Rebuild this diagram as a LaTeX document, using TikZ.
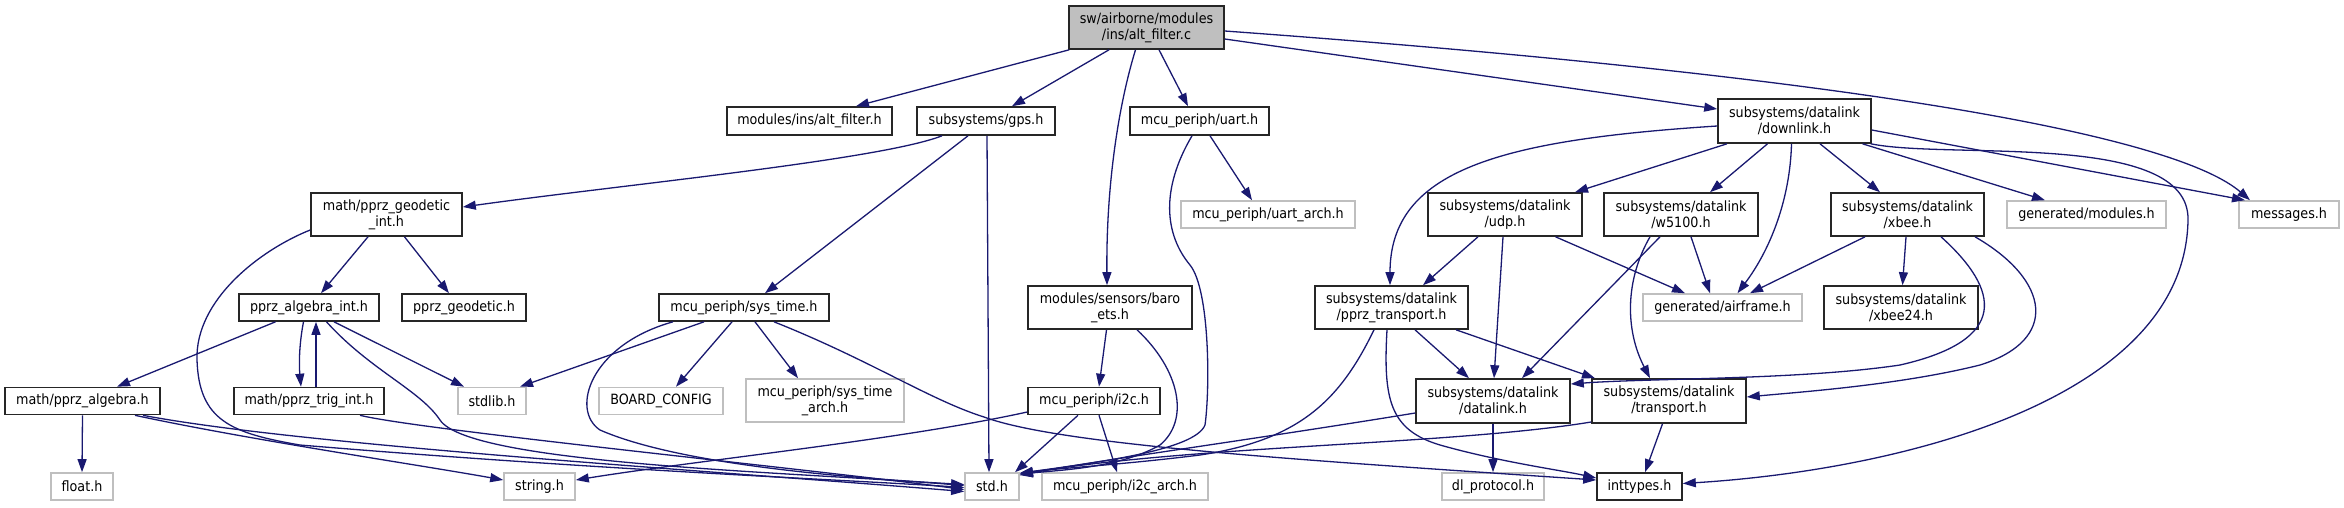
\documentclass[tikz,border=0pt]{standalone}
\usepackage{fontspec}
\setmainfont{DejaVu Sans}[FakeStretch=0.9]
\usetikzlibrary{arrows.meta}
\definecolor{edgecol}{HTML}{191970}
\definecolor{graybord}{HTML}{BFBFBF}
\begin{document}
\begin{tikzpicture}[x=1pt,y=-1pt,
 box/.style={draw=black!85, line width=1.6pt, inner sep=0pt, align=center, font=\fontsize{14.15}{16}\selectfont, fill=white},
 gbox/.style={box, draw=graybord},
 rootbox/.style={box, fill=graybord},
 e/.style={draw=edgecol, line width=1.3pt, -{Triangle[length=13pt,width=9pt]}},
]
\useasboundingbox (0,0) rectangle (2344,507);
% row 0
\node[rootbox, minimum width=155pt, minimum height=43pt] (root) at (1146.5,27.5) {sw/airborne/modules\\/ins/alt\_filter.c};
% row 1
\node[box, minimum width=165pt, minimum height=28pt] (altf) at (809.5,121) {modules/ins/alt\_filter.h};
\node[box, minimum width=138pt, minimum height=28pt] (gps) at (986,121) {subsystems/gps.h};
\node[box, minimum width=139pt, minimum height=28pt] (uart) at (1199.5,121) {mcu\_periph/uart.h};
\node[box, minimum width=153pt, minimum height=44pt] (downlink) at (1794.5,121) {subsystems/datalink\\/downlink.h};
% row 2
\node[box, minimum width=151pt, minimum height=43pt] (geoint) at (386.5,214.5) {math/pprz\_geodetic\\\_int.h};
\node[gbox, minimum width=174pt, minimum height=27pt] (uartarch) at (1268,214.5) {mcu\_periph/uart\_arch.h};
\node[box, minimum width=154pt, minimum height=43pt] (udp) at (1505,214.5) {subsystems/datalink\\/udp.h};
\node[box, minimum width=154pt, minimum height=43pt] (w5100) at (1681,214.5) {subsystems/datalink\\/w5100.h};
\node[box, minimum width=153pt, minimum height=43pt] (xbee) at (1907.5,214.5) {subsystems/datalink\\/xbee.h};
\node[gbox, minimum width=159pt, minimum height=27pt] (genmod) at (2086.5,214.5) {generated/modules.h};
\node[gbox, minimum width=100pt, minimum height=27pt] (messages) at (2289,214.5) {messages.h};
% row 3
\node[box, minimum width=140pt, minimum height=27pt] (algint) at (309,307.5) {pprz\_algebra\_int.h};
\node[box, minimum width=124pt, minimum height=27pt] (geod) at (464,307.5) {pprz\_geodetic.h};
\node[box, minimum width=170pt, minimum height=27pt] (systime) at (744,307.5) {mcu\_periph/sys\_time.h};
\node[box, minimum width=164pt, minimum height=43pt] (baro) at (1110,307.5) {modules/sensors/baro\\\_ets.h};
\node[box, minimum width=153pt, minimum height=43pt] (ptrans) at (1391.5,307.5) {subsystems/datalink\\/pprz\_transport.h};
\node[gbox, minimum width=159pt, minimum height=27pt] (airframe) at (1722.5,307.5) {generated/airframe.h};
\node[box, minimum width=154pt, minimum height=43pt] (xbee24) at (1901,307.5) {subsystems/datalink\\/xbee24.h};
% row 4
\node[box, minimum width=155pt, minimum height=27pt] (palg) at (82.5,401) {math/pprz\_algebra.h};
\node[box, minimum width=150pt, minimum height=27pt] (trig) at (309,401) {math/pprz\_trig\_int.h};
\node[gbox, minimum width=68pt, minimum height=27pt] (stdlib) at (492,401) {stdlib.h};
\node[gbox, minimum width=124pt, minimum height=27pt] (board) at (661,401) {BOARD\_CONFIG};
\node[gbox, minimum width=158pt, minimum height=43pt] (starch) at (825,400.5) {mcu\_periph/sys\_time\\\_arch.h};
\node[box, minimum width=132pt, minimum height=27pt] (i2c) at (1094,401) {mcu\_periph/i2c.h};
\node[box, minimum width=154pt, minimum height=44pt] (datalink) at (1493,401) {subsystems/datalink\\/datalink.h};
\node[box, minimum width=154pt, minimum height=44pt] (transport) at (1669,401) {subsystems/datalink\\/transport.h};
% row 5
\node[gbox, minimum width=62pt, minimum height=27pt] (float) at (82,486.5) {float.h};
\node[gbox, minimum width=71pt, minimum height=27pt] (string) at (539.5,486.5) {string.h};
\node[gbox, minimum width=54pt, minimum height=27pt] (std) at (992,486.5) {std.h};
\node[gbox, minimum width=166pt, minimum height=27pt] (i2carch) at (1125,486.5) {mcu\_periph/i2c\_arch.h};
\node[gbox, minimum width=102pt, minimum height=27pt] (dlproto) at (1493,486.5) {dl\_protocol.h};
\node[box, minimum width=85pt, minimum height=27pt] (inttypes) at (1639.5,486.5) {inttypes.h};
% edges from root
\draw[e] ([xshift=1pt]root.south west) -- ([xshift=46.5pt]altf.north);
\draw[e] ([xshift=-37.5pt]root.south) -- ([xshift=26pt]gps.north);
\draw[e] ([xshift=-11pt]root.south) .. controls (1120,100) and (1106,180) .. ([xshift=-3pt]baro.north);
\draw[e] ([xshift=12.5pt]root.south) -- ([xshift=-11.5pt]uart.north);
\draw[e] ([yshift=-11.5pt]root.east) -- ([yshift=12pt]downlink.west);
\draw[e] ([yshift=-3.5pt]root.east) .. controls (1900,80) and (2180,140) .. ([xshift=-39pt]messages.north);
% gps
\draw[e] ([xshift=-44pt]gps.south) .. controls (880,160) and (620,185) .. ([yshift=7.5pt]geoint.east);
\draw[e] ([xshift=-18pt]gps.south) -- ([xshift=21pt]systime.north);
\draw[e] ([xshift=1pt]gps.south) -- ([xshift=-3pt]std.north);
% uart
\draw[e] ([xshift=10.5pt]uart.south) -- ([xshift=-16pt]uartarch.north);
\draw[e] ([xshift=-7.5pt]uart.south) .. controls (1160,190) and (1165,235) .. (1190,265) .. controls (1210,290) and (1210,390) .. (1205,425) .. controls (1195,450) and (1100,462) .. ([yshift=-1pt]std.north east);
% geodetic_int
\draw[e] ([xshift=-18.5pt]geoint.south) -- ([xshift=12pt]algint.north);
\draw[e] ([xshift=18pt]geoint.south) -- ([xshift=-15pt]geod.north);
\draw[e] ([yshift=-15.5pt]geoint.west) .. controls (260,250) and (195,300) .. (197,360) .. controls (199,420) and (230,433) .. (300,445) .. controls (600,470) and (850,480) .. ([yshift=-1pt]std.west);
% pprz_algebra_int
\draw[e] ([xshift=-33.5pt]algint.south) -- ([xshift=34.5pt]palg.north);
\draw[e] ([xshift=-5.5pt]algint.south) .. controls (299,345) and (299,365) .. ([xshift=-8pt]trig.north);
\draw[e] ([xshift=25pt]algint.south) -- ([xshift=-28pt]stdlib.north);
\draw[e] ([xshift=17.5pt]algint.south) .. controls (370,370) and (420,390) .. (440,420) .. controls (470,465) and (800,472) .. ([yshift=1pt]std.west);
% trig
\draw[e] ([xshift=7pt]trig.north) -- ([xshift=7pt]algint.south);
\draw[e] ([xshift=51pt]trig.south) .. controls (420,430) and (800,468) .. ([yshift=-3pt]std.west);
% pprz_algebra
\draw[e] (palg.south) -- (float.north);
\draw[e] ([xshift=52.5pt]palg.south) .. controls (250,440) and (420,465) .. ([yshift=6.5pt]string.west);
\draw[e] ([xshift=60.5pt]palg.south) .. controls (300,445) and (700,470) .. ([yshift=-5pt]std.west);
% sys_time
\draw[e] ([xshift=-40pt]systime.south) -- ([xshift=28pt]stdlib.north);
\draw[e] ([xshift=-12pt]systime.south) -- ([xshift=15pt]board.north);
\draw[e] ([xshift=11pt]systime.south) -- ([xshift=-27pt]starch.north);
\draw[e] ([xshift=-71pt]systime.south) .. controls (590,345) and (570,410) .. (600,430) .. controls (680,465) and (850,478) .. ([yshift=2pt]std.west);
\draw[e] ([xshift=30pt]systime.south) .. controls (870,360) and (930,400) .. (984,417) .. controls (1060,445) and (1300,460) .. ([yshift=6.5pt]inttypes.west);
% baro
\draw[e] ([xshift=-3.5pt]baro.south) -- ([xshift=5pt]i2c.north);
\draw[e] ([xshift=27pt]baro.south) .. controls (1180,370) and (1190,420) .. (1160,445) .. controls (1120,468) and (1060,470) .. ([yshift=-2pt]std.north east);
% i2c
\draw[e] ([yshift=-11pt]i2c.west) .. controls (900,440) and (700,460) .. ([yshift=6.5pt]string.east);
\draw[e] ([xshift=-16pt]i2c.south) -- ([xshift=23pt]std.north);
\draw[e] ([xshift=5pt]i2c.south) -- ([xshift=-8pt]i2carch.north);
% downlink
\draw[e] ([yshift=-5pt]downlink.west) .. controls (1500,140) and (1390,170) .. ([xshift=-1.5pt]ptrans.north);
\draw[e] ([xshift=-67.5pt]downlink.south) -- ([xshift=70pt]udp.north);
\draw[e] ([xshift=-27pt]downlink.south) -- ([xshift=29pt]w5100.north);
\draw[e] ([xshift=-3pt]downlink.south) .. controls (1790,200) and (1770,250) .. ([xshift=15pt]airframe.north);
\draw[e] ([xshift=25.5pt]downlink.south) -- ([xshift=-27.5pt]xbee.north);
\draw[e] ([xshift=68pt]downlink.south) -- ([xshift=-41.5pt]genmod.north);
\draw[e] ([yshift=-9pt]downlink.east) -- ([xshift=-44pt]messages.north);
\draw[e] ([xshift=-1pt]downlink.south east) .. controls (1950,160) and (2190,130) .. (2188,220) .. controls (2185,400) and (1900,470) .. ([yshift=3pt]inttypes.east);
% udp
\draw[e] ([xshift=-27pt]udp.south) -- ([xshift=31.5pt]ptrans.north);
\draw[e] ([xshift=-2pt]udp.south) -- ([xshift=1pt]datalink.north);
\draw[e] ([xshift=50.5pt]udp.south) -- ([xshift=-37.5pt]airframe.north);
% w5100
\draw[e] ([xshift=10pt]w5100.south) -- ([xshift=-12.5pt]airframe.north);
\draw[e] ([xshift=-21pt]w5100.south) -- ([xshift=29pt]datalink.north);
\draw[e] ([xshift=-31pt]w5100.south) .. controls (1625,280) and (1625,330) .. ([xshift=-19pt]transport.north);
% xbee
\draw[e] ([xshift=-42.5pt]xbee.south) -- ([xshift=27.5pt]airframe.north);
\draw[e] ([xshift=-1.5pt]xbee.south) -- ([xshift=1.5pt]xbee24.north);
\draw[e] ([xshift=33.5pt]xbee.south) .. controls (2000,290) and (2010,340) .. (1900,365) .. controls (1800,380) and (1650,378) .. ([yshift=17pt]datalink.east);
\draw[e] ([xshift=67.5pt]xbee.south) .. controls (2050,280) and (2060,340) .. (1980,365) .. controls (1900,385) and (1800,392) .. ([yshift=4pt]transport.east);
% pprz_transport
\draw[e] ([xshift=23.5pt]ptrans.south) -- ([xshift=-24pt]datalink.north);
\draw[e] ([xshift=64.5pt]ptrans.south) -- ([xshift=-74pt]transport.north);
\draw[e] ([xshift=-17.5pt]ptrans.south) .. controls (1340,400) and (1300,440) .. (1200,455) .. controls (1120,465) and (1060,468) .. ([yshift=-1pt]std.north east);
\draw[e] ([xshift=-4.5pt]ptrans.south) .. controls (1383,400) and (1390,430) .. (1440,445) .. controls (1500,462) and (1560,470) .. ([yshift=8.5pt]inttypes.west);
% datalink
\draw[e] (datalink.south) -- (dlproto.north);
\draw[e] ([yshift=-12pt]datalink.west) .. controls (1250,440) and (1100,460) .. ([yshift=-3pt]std.north east);
% transport
\draw[e] ([xshift=-6.5pt]transport.south) -- ([xshift=5.5pt]inttypes.north);
\draw[e] ([yshift=-21pt]transport.west) .. controls (1450,445) and (1200,445) .. ([yshift=-2pt]std.north east);
\end{tikzpicture}
\end{document}
